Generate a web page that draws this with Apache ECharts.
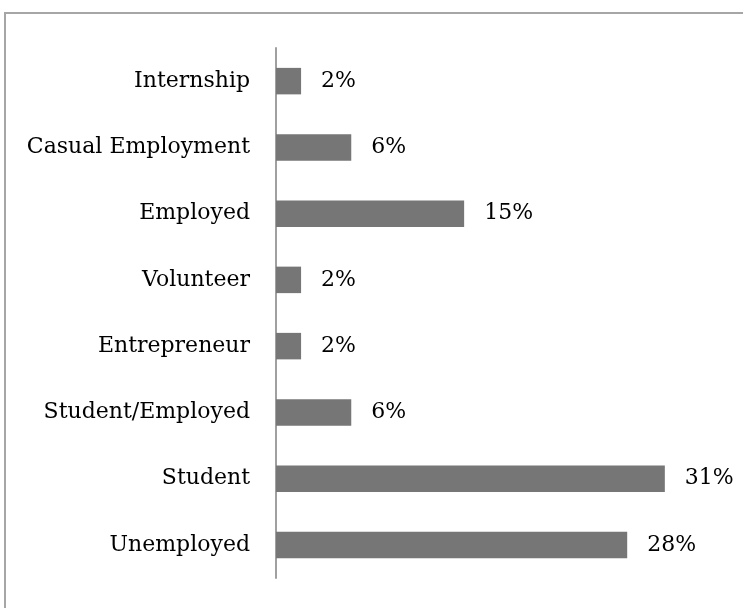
<!DOCTYPE html>
<html>
<head>
<meta charset="utf-8">
<script src="https://cdn.jsdelivr.net/npm/echarts@6/dist/echarts.min.js"></script>
<style>
  html, body { margin: 0; padding: 0; background: #fff; }
  #chart { width: 743px; height: 608px; }
</style>
</head>
<body>
<div id="chart"></div>
<script>
// Employment status categories, listed bottom to top as drawn on the axis
const categories = [
  'Unemployed',
  'Student',
  'Student/Employed',
  'Entrepreneur',
  'Volunteer',
  'Employed',
  'Casual Employment',
  'Internship'
];

// Share of respondents in each category (%)
const shares = [28, 31, 6, 2, 2, 15, 6, 2];

const FONT = 'DejaVu Serif';

const chart = echarts.init(document.getElementById('chart'), null, { renderer: 'canvas' });

chart.setOption({
  backgroundColor: '#ffffff',
  animation: false,
  graphic: [{
    type: 'rect',
    shape: { x: 5, y: 13, width: 760, height: 620 },
    style: { fill: 'none', stroke: '#a6a6a6', lineWidth: 2 },
    silent: true
  }],
  grid: { left: 276, right: 28, top: 48, bottom: 30 },
  xAxis: {
    type: 'value',
    min: 0,
    max: 35,
    show: false
  },
  yAxis: {
    type: 'category',
    data: categories,
    axisLine: { show: true, lineStyle: { color: '#a0a0a0', width: 2 } },
    axisTick: { show: false },
    axisLabel: {
      color: '#000000',
      fontFamily: FONT,
      fontSize: 22,
      margin: 26
    }
  },
  series: [{
    type: 'bar',
    data: shares,
    barCategoryGap: '60%',
    itemStyle: { color: '#767676' },
    label: {
      show: true,
      position: 'right',
      distance: 20,
      color: '#000000',
      fontFamily: FONT,
      fontSize: 22,
      formatter: p => p.value + '%'
    }
  }]
});
</script>
</body>
</html>
